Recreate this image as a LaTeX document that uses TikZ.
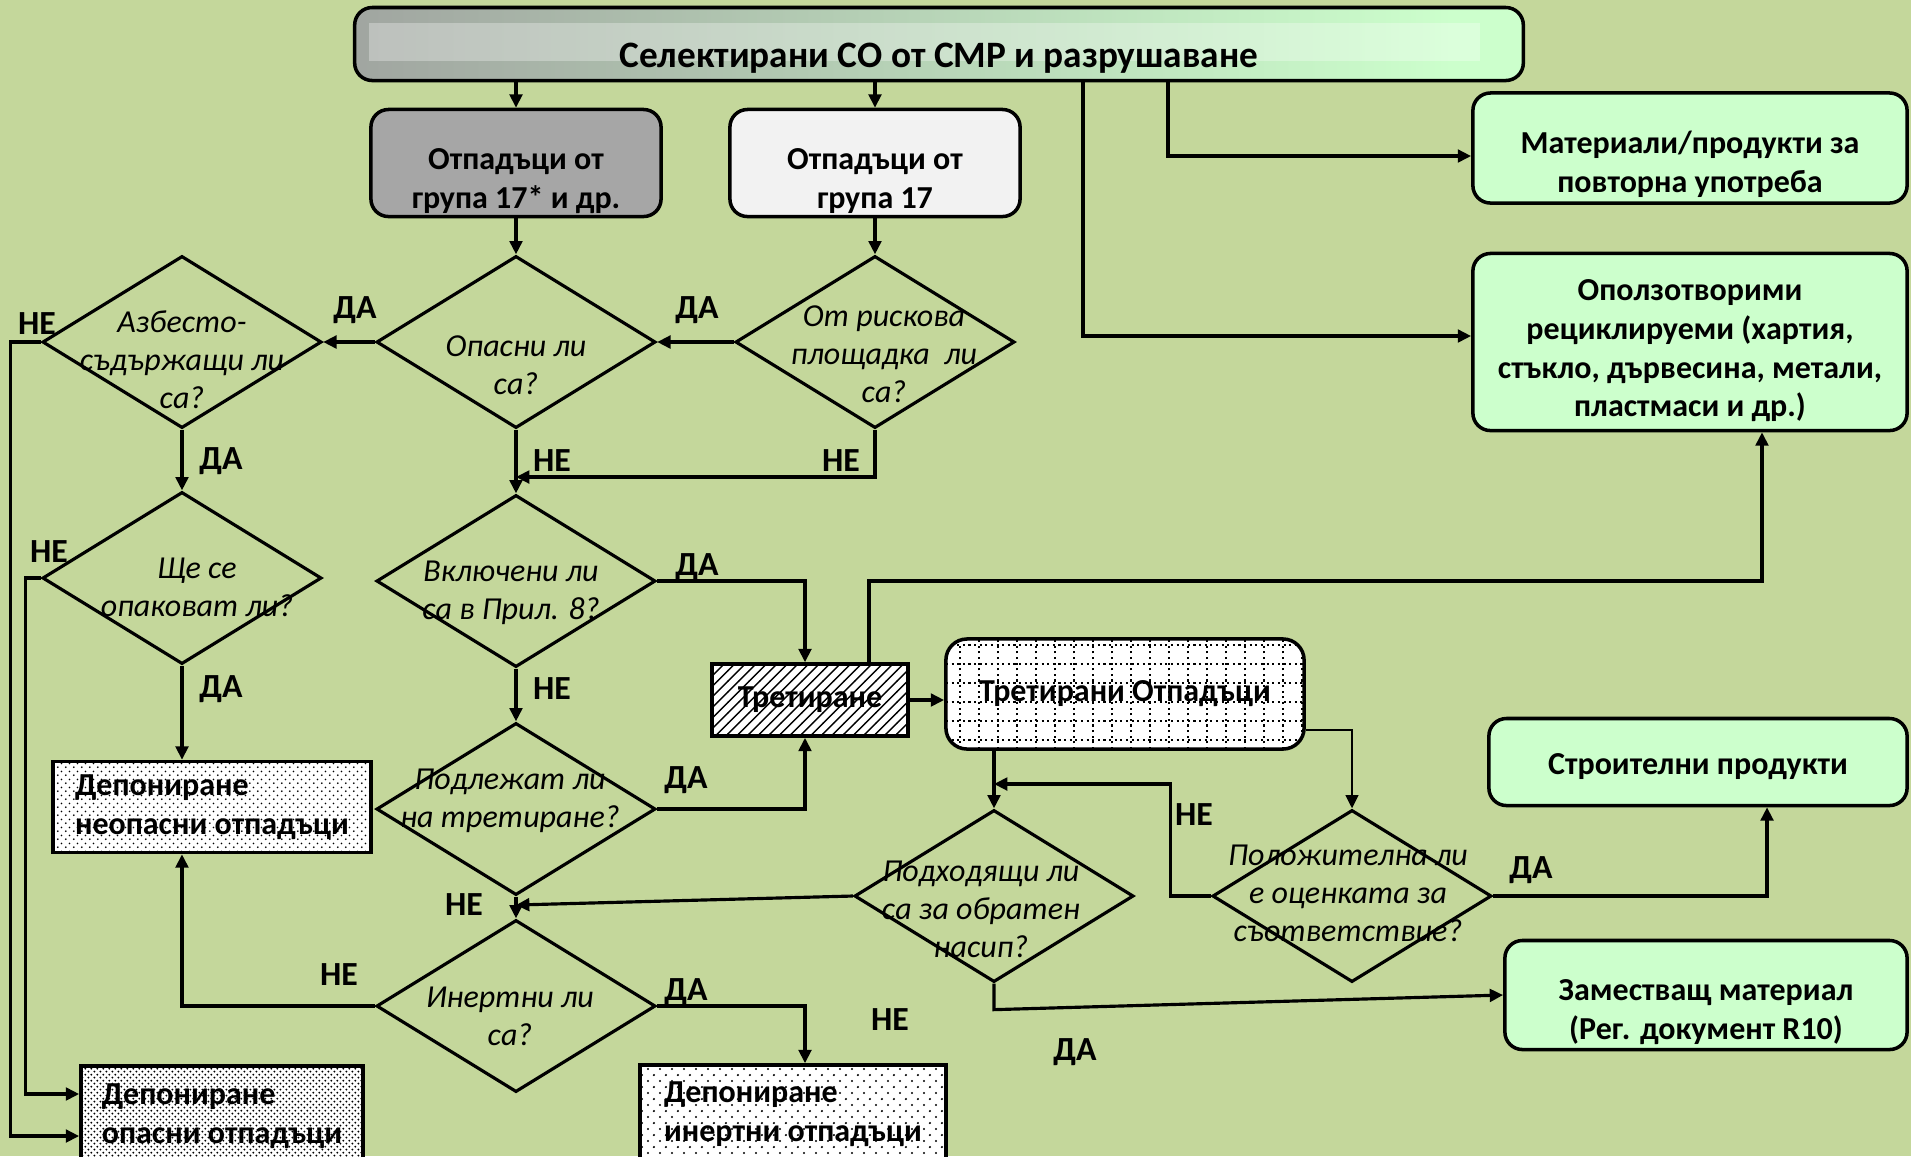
\documentclass[tikz,border=0pt]{standalone}
\usepackage{fontspec}
\setmainfont{Carlito}
\usepackage{xcolor}
\usetikzlibrary{arrows.meta,shapes.geometric,patterns,patterns.meta}
\definecolor{olivebg}{HTML}{C4D79B}
\definecolor{mint}{HTML}{CCFFCC}
\definecolor{boxgray}{HTML}{A6A6A6}
\definecolor{boxlight}{HTML}{F2F2F2}
\definecolor{titlegray}{HTML}{9C9C9C}
\pgfdeclarehorizontalshading{titleshade}{100bp}{color(0bp)=(titlegray);
  color(20bp)=(titlegray); color(72bp)=(mint); color(100bp)=(mint)}
% staggered dot fills: name, tile, dot radius
\newcommand{\dotpattern}[3]{%
  \tikzdeclarepattern{
    name=#1,
    type=uncolored,
    bottom left={(0pt,0pt)},
    top right={(#2,#2)},
    tile size={(#2,#2)},
    code={
      \fill (0.25*#2,0.25*#2) circle (#3);
      \fill (0.75*#2,0.75*#2) circle (#3);
    }
  }}
\dotpattern{dotsnon}{2.3pt}{0.3pt}
\dotpattern{dotshaz}{1.8pt}{0.32pt}
\dotpattern{dotsinert}{3.4pt}{0.34pt}
% text of a diamond or box: does not change the size of its node
\newcommand{\qtxt}[3]{\smash{\makebox[0pt]{\hspace*{#1}\hspace*{#1}%
  \raisebox{#2}{\begin{tabular}[c]{@{}c@{}}#3\end{tabular}}}}}
\tikzset{
  titlebox/.style={draw,line width=1pt,rounded corners=5pt,shading=titleshade,
                   minimum width=11.68cm,minimum height=0.73cm,inner ysep=0.05cm,
                   text height=0.52cm,text depth=0.05cm,
                   font=\fontsize{10.6}{13}\selectfont\bfseries,
                   path picture={\fill[white,opacity=0.3,sharp corners]
                     ([xshift=0.14cm,yshift=-0.15cm]path picture bounding box.north west)
                     rectangle ([xshift=-0.43cm,yshift=0.2cm]path picture bounding box.south east);}},
  groupbox/.style={draw,line width=1pt,rounded corners=5pt,
                   minimum width=2.90cm,minimum height=1.07cm,
                   font=\fontsize{9.1}{11}\selectfont\bfseries},
  greenbox/.style={draw,fill=mint,line width=1pt,rounded corners=5pt,
                   font=\fontsize{9.1}{11}\selectfont\bfseries},
  depbox/.style={draw,line width=1pt,preaction={fill=white},align=left,
                 font=\fontsize{9.1}{11}\selectfont\bfseries},
  decision/.style={diamond,draw,line width=0.9pt,inner sep=0pt,
                   minimum width=2.79cm,minimum height=1.72cm,
                   font=\fontsize{9.1}{10.8}\selectfont\itshape},
  flow/.style={-{Triangle[length=3.8pt,width=3.6pt]},line width=0.9pt},
  yn/.style={font=\fontsize{9.6}{12}\selectfont\bfseries,inner sep=1pt},
}
\begin{document}
\begin{tikzpicture}[x=0.01cm,y=-0.01cm]
  \useasboundingbox (0,0) rectangle (1911,1156);
  \clip (0,0) rectangle (1911,1156);
  \fill[olivebg] (0,0) rectangle (1911,1156);

  % Source and waste groups
  \node[titlebox] (title) at(939,44) {Селектирани СО от СМР и разрушаване};
  \node[groupbox,fill=boxgray] (g17s) at(516,163)
    {\qtxt{0cm}{-0.26cm}{Отпадъци от\\група 17* и др.}};
  \node[groupbox,fill=boxlight] (g17) at(875,163)
    {\qtxt{0cm}{-0.26cm}{Отпадъци от\\група 17}};

  % Green outputs on the right
  \node[greenbox,minimum width=4.34cm,minimum height=1.10cm] (reuse) at(1690,148)
    {\qtxt{0cm}{-0.25cm}{Материали/продукти за\\повторна употреба}};
  \node[greenbox,minimum width=4.34cm,minimum height=1.77cm] (recyc) at(1690,342)
    {\qtxt{0cm}{-0.17cm}{Оползотворими\\рециклируеми (хартия,\\стъкло, дървесина, метали,\\пластмаси и др.)}};
  \node[greenbox,minimum width=4.18cm,minimum height=0.87cm] (stroit) at(1698,762)
    {\qtxt{0cm}{-0.13cm}{Строителни продукти}};
  \node[greenbox,minimum width=4.02cm,minimum height=1.09cm] (zam) at(1706,995)
    {\qtxt{0cm}{-0.25cm}{Заместващ материал\\(Рег. документ R10)}};

  % Decisions
  \node[decision] (asb) at(182,342) {\qtxt{0cm}{-0.29cm}{Азбесто-\\съдържащи ли\\са?}};
  \node[decision] (hazard) at(516,342) {\qtxt{0cm}{-0.34cm}{Опасни ли\\са?}};
  \node[decision] (risk) at(875,342) {\qtxt{0.09cm}{-0.23cm}{От рискова\\площадка~ ли\\са?}};
  \node[decision] (pack) at(182,578) {\qtxt{0.15cm}{-0.20cm}{Ще се\\опаковат ли?}};
  \node[decision] (annex) at(516,581) {\qtxt{-0.05cm}{-0.20cm}{Включени ли\\са в Прил. 8?}};
  \node[decision] (treatq) at(516,809) {\qtxt{-0.06cm}{0cm}{Подлежат ли\\на третиране?}};
  \node[decision] (inert) at(516,1006) {\qtxt{-0.06cm}{-0.21cm}{Инертни ли\\са?}};
  \node[decision] (backfill) at(994,896) {\qtxt{-0.13cm}{-0.24cm}{Подходящи ли\\са за обратен\\насип?}};
  \node[decision] (conform) at(1352,896) {\qtxt{-0.04cm}{-0.08cm}{Положителна ли\\е оценката за\\съответствие?}};

  % Treatment and landfill boxes
  \node[draw,line width=1pt,preaction={fill=white},pattern=north east lines,
        minimum width=1.96cm,minimum height=0.72cm,
        font=\fontsize{9.1}{11}\selectfont\bfseries] (treat) at(810,700) {Третиране};
  \node[draw,line width=1pt,rounded corners=6pt,fill=white,
        minimum width=3.58cm,minimum height=1.10cm,
        font=\fontsize{9.1}{11}\selectfont\bfseries,
        path picture={\draw[densely dotted,line width=0.6pt,sharp corners]
          (path picture bounding box.south west) grid[step=0.19cm]
          (path picture bounding box.north east);}] (treated) at(1125,694)
    {Третирани Отпадъци};
  \node[depbox,pattern=dotsnon,minimum width=3.18cm,minimum height=0.91cm]
    (depNon) at(212,807) {Депониране\\неопасни отпадъци};
  \node[depbox,pattern=dotshaz,minimum width=2.82cm,minimum height=1.00cm]
    (depHaz) at(222,1116) {Депониране\\опасни отпадъци};
  \node[depbox,pattern=dotsinert,minimum width=3.06cm,minimum height=0.98cm]
    (depInert) at(793,1114) {Депониране\\инертни отпадъци};

  % Helper points
  \coordinate (c1) at(1168,44);
  \coordinate (c2) at(1083,44);
  \coordinate (j1) at(516,477);
  \coordinate (j2) at(516,905);
  \coordinate (j3) at(994,784);
  \coordinate (cx) at(805,700);
  \coordinate (t1) at(869,581);
  \coordinate (t2) at(1762,581);

  % Connectors
  \draw[flow] (title.south -| g17s) -- (g17s.north);
  \draw[flow] (title.south -| g17) -- (g17.north);
  \draw[flow] (title.south -| c1) |- ([yshift=-0.08cm]reuse.west);
  \draw[flow] (title.south -| c2) |- ([yshift=0.06cm]recyc.west);
  \draw[flow] (g17s.south) -- (hazard.north);
  \draw[flow] (g17.south) -- (risk.north);
  \draw[flow] (risk.west) -- (hazard.east);
  \draw[flow] (hazard.west) -- (asb.east);
  \draw[flow] (hazard.south) -- (annex.north);
  \draw[flow] (risk.south) |- (j1);
  \draw[flow] (asb.south) -- (pack.north);
  \draw[flow] (asb.west) -- ++(-30,0) |- ([yshift=-0.2cm]depHaz.west);
  \draw[flow] (pack.west) -- ++(-15,0) |- ([yshift=0.22cm]depHaz.west);
  \draw[flow] (pack.south) -- (pack.south |- depNon.north);
  \draw[flow] (annex.east) -| (treat.north -| cx);
  \draw[flow] (annex.south) -- (treatq.north);
  \draw[flow] (treatq.east) -| (treat.south -| cx);
  \draw[flow] (treatq.south) -- (inert.north);
  \draw[flow] (backfill.west) -- (j2);
  \draw[flow] (inert.west) -| ([xshift=-0.3cm]depNon.south);
  \draw[flow] (inert.east) -| (depInert.north -| cx);
  \draw[flow] (treat.east) -- (treat.east -| treated.west);
  \draw[flow] (treat.north -| t1) -- (t1) -- (t2) -- (recyc.south -| t2);
  \draw[flow] (treated.south -| backfill.north) -- (backfill.north);
  \draw[flow,line width=0.7pt] ([yshift=-0.36cm]treated.east) -| (conform.north);
  \draw[flow] (conform.west) -- ++(-40,0) |- (j3);
  \draw[flow] (conform.east) -| ([xshift=0.69cm]stroit.south);
  \draw[flow] (backfill.south) -- ++(0,26) -- (zam.west);

  % Yes / no labels
  \node[yn] (l1) at(355,310) {ДА};
  \node[yn] (l2) at(697,310) {ДА};
  \node[yn] (l3) at(37,324) {НЕ};
  \node[yn] (l4) at(221,461) {ДА};
  \node[yn] (l5) at(552,461) {НЕ};
  \node[yn] (l6) at(841,461) {НЕ};
  \node[yn] (l7) at(49,552) {НЕ};
  \node[yn] (l8) at(697,567) {ДА};
  \node[yn] (l9) at(221,689) {ДА};
  \node[yn] (l10) at(552,689) {НЕ};
  \node[yn] (l11) at(686,780) {ДА};
  \node[yn] (l12) at(464,905) {НЕ};
  \node[yn] (l13) at(339,975) {НЕ};
  \node[yn] (l14) at(686,992) {ДА};
  \node[yn] (l15) at(890,1020) {НЕ};
  \node[yn] (l16) at(1075,1052) {ДА};
  \node[yn] (l17) at(1194,815) {НЕ};
  \node[yn] (l18) at(1531,870) {ДА};
\end{tikzpicture}
\end{document}
